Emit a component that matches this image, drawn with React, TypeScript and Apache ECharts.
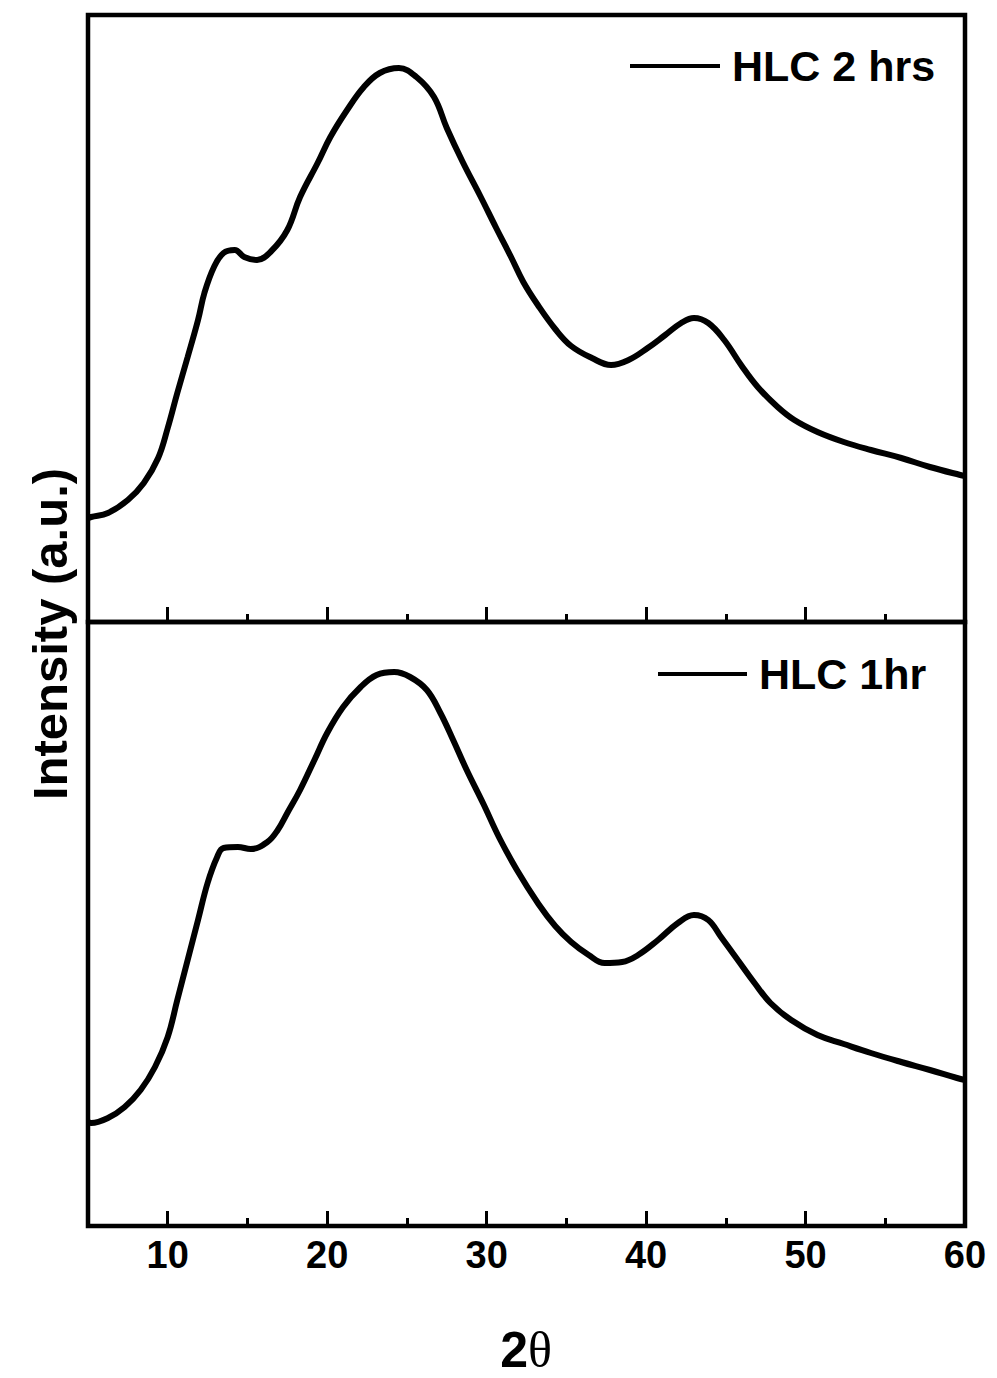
import React, { useEffect, useRef } from "react";
import * as echarts from "echarts";

// 2θ positions and intensities (a.u.)
const twoTheta2h = [5, 5.2, 6.25, 7.5, 8.5, 9.4, 10, 10.6, 11.25, 11.9, 12.3, 12.9, 13.5, 14.2, 14.8, 15.6, 16.5, 17.5, 18.3, 19.4, 20.2, 21.25, 22.3, 23.3, 24.5, 25.6, 26.7, 27.5, 28.5, 29.6, 30.6, 31.5, 32.3, 33.25, 34.3, 35.3, 36.6, 37.8, 38.9, 40.1, 41.2, 42.2, 43.0, 43.9, 44.9, 46, 47, 48.25, 49.3, 50.75, 52.4, 54.1, 56, 57.8, 59.7, 60];
const intensity2h = [104, 105, 109, 122, 139, 164, 194, 229, 265, 302, 329, 355, 369, 372, 365, 362, 371, 392, 425, 459, 485, 512, 535, 549, 554, 545, 525, 494, 460, 426, 394, 366, 340, 316, 293, 276, 264, 257, 262, 274, 287, 299, 304, 299, 282, 256, 235, 215, 202, 190, 180, 172, 164, 155, 147, 146];

const twoTheta1h = [5, 5.2, 6.25, 7.3, 8.3, 9.2, 10, 10.6, 11.25, 11.9, 12.5, 13.1, 13.5, 14.4, 15.2, 16.25, 16.9, 17.5, 18.3, 19.2, 20, 21, 22.1, 23.1, 24.2, 25.2, 26.25, 27.1, 27.9, 28.75, 29.8, 30.8, 31.9, 33.25, 34.3, 35.3, 36.4, 37.4, 38.5, 39.5, 40.75, 42, 43, 43.9, 44.7, 45.75, 46.8, 47.8, 49.1, 50.75, 52.4, 54.1, 56, 57.8, 59.5, 60];
const intensity1h = [104, 103, 108, 119, 136, 159, 189, 226, 266, 306, 343, 369, 378, 379, 377, 384, 396, 413, 436, 466, 493, 519, 539, 551, 554, 549, 536, 513, 486, 456, 422, 388, 356, 322, 300, 284, 271, 263, 264, 271, 286, 303, 311, 306, 289, 266, 243, 223, 206, 191, 182, 173, 164, 156, 148, 146];

const majorTicks = [10, 20, 30, 40, 50, 60];
const minorTicks = [15, 25, 35, 45, 55];
const seriesNames = ["HLC 2 hrs", "HLC 1hr"];
const xTitle = "2θ";
const yTitle = "Intensity (a.u.)";

const FONT = "'Liberation Sans', Arial, sans-serif";

function makeXAxis(gridIndex: number, labels: boolean, minor: boolean) {
  return {
    type: "value",
    gridIndex,
    position: "bottom",
    min: 5,
    max: 60,
    interval: 5,
    axisLine: { show: false },
    splitLine: { show: false },
    axisTick: {
      show: true,
      inside: true,
      length: minor ? 8 : 15,
      customValues: minor ? minorTicks : majorTicks,
      lineStyle: { color: "#000", width: 3 },
    },
    axisLabel: labels
      ? {
          show: true,
          customValues: majorTicks,
          color: "#000",
          fontSize: 38,
          fontWeight: "bold",
          fontFamily: FONT,
          margin: 10,
        }
      : { show: false },
  };
}

function makeLegend(name: string, left: number, top: number, width: number) {
  return {
    data: [name],
    left,
    top,
    padding: 0,
    icon: "rect",
    itemWidth: width,
    itemHeight: 4,
    itemStyle: { color: "#000", borderWidth: 0 },
    textStyle: { color: "#000", fontSize: 43, fontWeight: "bold", fontFamily: FONT, lineHeight: 44, padding: [0, 0, 0, 7] },
  };
}

export default function App() {
  const ref = useRef<HTMLDivElement>(null);
  useEffect(() => {
    if (!ref.current) return;
    const chart = echarts.init(ref.current, null, { renderer: "svg" });
    const d2 = twoTheta2h.map((x, i) => [x, intensity2h[i]]);
    const d1 = twoTheta1h.map((x, i) => [x, intensity1h[i]]);
    chart.setOption({
      animation: false,
      backgroundColor: "#fff",
      grid: [
        { left: 88, top: 15, width: 877, height: 607, show: true, borderColor: "#000", borderWidth: 4.5, backgroundColor: "transparent" },
        { left: 88, top: 622, width: 877, height: 604, show: true, borderColor: "#000", borderWidth: 4.5, backgroundColor: "transparent" },
      ],
      xAxis: [
        makeXAxis(0, false, false),
        makeXAxis(0, false, true),
        makeXAxis(1, true, false),
        makeXAxis(1, false, true),
      ],
      yAxis: [
        { type: "value", gridIndex: 0, min: 0, max: 607, show: false },
        { type: "value", gridIndex: 1, min: 0, max: 604, show: false },
      ],
      legend: [
        makeLegend(seriesNames[0], 630, 44, 90),
        makeLegend(seriesNames[1], 658, 652, 89),
      ],
      series: [
        {
          name: seriesNames[0],
          type: "line",
          xAxisIndex: 0,
          yAxisIndex: 0,
          data: d2,
          symbol: "none",
          smooth: 0.4,
          clip: true,
          lineStyle: { color: "#000", width: 6 },
          itemStyle: { color: "#000" },
        },
        {
          name: seriesNames[1],
          type: "line",
          xAxisIndex: 2,
          yAxisIndex: 1,
          data: d1,
          symbol: "none",
          smooth: 0.4,
          clip: true,
          lineStyle: { color: "#000", width: 6 },
          itemStyle: { color: "#000" },
        },
      ],
      graphic: [
        {
          type: "text",
          x: 50,
          y: 634,
          rotation: Math.PI / 2,
          style: {
            text: yTitle,
            fill: "#000",
            font: `bold 49px ${FONT}`,
            align: "center",
            verticalAlign: "middle",
          },
        },
        {
          type: "text",
          x: 526,
          y: 1350,
          style: {
            text: `{a|${xTitle[0]}}{b|${xTitle[1]}}`,
            align: "center",
            verticalAlign: "middle",
            rich: {
              a: { fontSize: 50, lineHeight: 44, fontWeight: "bold", fontFamily: FONT, fill: "#000", color: "#000" },
              b: { fontSize: 50, lineHeight: 44, fontFamily: "'Liberation Serif', 'Times New Roman', serif", fill: "#000", color: "#000" },
            },
          },
        },
      ],
    });
    return () => chart.dispose();
  }, []);
  return (
    <div
      ref={ref}
      style={{ position: "absolute", left: 0, top: 0, width: 997, height: 1378, background: "#fff" }}
    />
  );
}
